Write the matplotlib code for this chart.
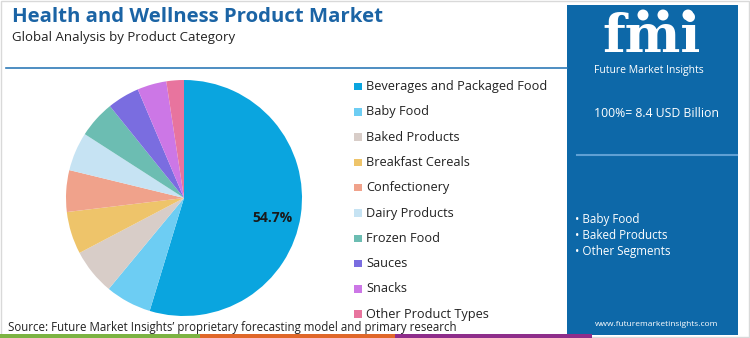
import matplotlib.pyplot as plt
from matplotlib.patches import Rectangle, Circle

plt.rcParams['font.family'] = ['Open Sans', 'DejaVu Sans']

# ---------------- data ----------------
categories = ["Beverages and Packaged Food", "Baby Food", "Baked Products",
              "Breakfast Cereals", "Confectionery", "Dairy Products",
              "Frozen Food", "Sauces", "Snacks", "Other Product Types"]
shares = [54.7, 6.3, 6.3, 5.8, 5.7, 5.3, 5.1, 4.4, 4.0, 2.4]
colors = ["#0aa5df", "#6dcdf3", "#d8cdc8", "#eec46a", "#f0a28b",
          "#c6e3f3", "#6cbdb2", "#7a6de0", "#cc77e6", "#e8749e"]
panel_segments = ["Baby Food", "Baked Products", "Other Segments"]
total_label = "100%= 8.4 USD Billion"

W, H = 750, 338
fig = plt.figure(figsize=(W / 100, H / 100), dpi=100)
fig.patch.set_facecolor("white")


def fx(px):
    return px / W


def fy(py):
    return 1 - py / H


# background layer for shapes in pixel coords
bg = fig.add_axes([0, 0, 1, 1])
bg.set_xlim(0, W)
bg.set_ylim(H, 0)
bg.axis("off")

# outer light frame
bg.add_patch(Rectangle((1, 1), W - 2, H - 2, fill=False, ec="#d9d9d9", lw=1))

# divider under header
bg.plot([6, 567], [67.5, 67.5], color="#2f7ab8", lw=1.2)

# right blue panel
bg.add_patch(Rectangle((567, 5), 171, 330, color="#0d68a8", lw=0))
bg.plot([577, 737], [155, 155], color="#5fa0d4", lw=1.5)

# bottom colour strip
for x0, x1, c in [(0, 200, "#7cb342"), (200, 395, "#e0672a"), (395, 592, "#8e2d8a")]:
    bg.add_patch(Rectangle((x0, 334), x1 - x0, 4, color=c, lw=0))

# ---------------- header ----------------
fig.text(fx(12), fy(17), "Health and Wellness Product Market", fontsize=14.7,
         fontweight="bold", color="#1b64a5", va="center", ha="left")
fig.text(fx(12), fy(37), "Global Analysis by Product Category", fontsize=9.5,
         color="#222222", va="center", ha="left")

# ---------------- pie ----------------
cx, cy, r = 184, 198, 118
ax = fig.add_axes([fx(cx - r), fy(cy + r), fx(2 * r), (2 * r) / H])


def pct_label(p):
    return f"{p:.1f}%" if p > 50 else ""


wedges, _, autotexts = ax.pie(shares, colors=colors, startangle=90, counterclock=False,
                              autopct=pct_label, pctdistance=0.76,
                              wedgeprops=dict(linewidth=0))
for t in autotexts:
    t.set_fontsize(10)
    t.set_fontweight("bold")
    t.set_color("#1a1a1a")
    t.set_va("top")
ax.set_xlim(-1, 1)
ax.set_ylim(-1, 1)
ax.set_aspect("equal")

# ---------------- legend ----------------
y0, dy = 86.5, 25.3
for i, (name, c) in enumerate(zip(categories, colors)):
    y = y0 + i * dy
    bg.add_patch(Rectangle((354, y - 3.8), 7.5, 7.5, color=c, lw=0))
    bg.text(366, y, name, fontsize=9.2, color="#222222", va="center", ha="left")

# ---------------- panel texts ----------------
fig.text(fx(652), fy(38), "fmi", fontsize=38, fontweight="bold", family="DejaVu Serif",
         color="white", ha="center", va="center")
for gx in [643, 663, 688]:
    bg.add_patch(Circle((gx, 15), 5.5, color="white", lw=0))
fig.text(fx(649), fy(70), "Future Market Insights", fontsize=7.5, color="white",
         ha="center", va="center")
fig.text(fx(657), fy(114), total_label, fontsize=8.8, color="white",
         ha="center", va="center")
for i, s in enumerate(panel_segments):
    fig.text(fx(575), fy(220 + i * 15.8), "\u2022 " + s, fontsize=8.4, color="white",
             ha="left", va="center")
fig.text(fx(657), fy(324), "www.futuremarketinsights.com", fontsize=6.0, color="white",
         ha="center", va="center")

# ---------------- source ----------------
fig.text(fx(8), fy(328), "Source: Future Market Insights\u2019 proprietary forecasting model and primary research",
         fontsize=8.3, color="#222222", ha="left", va="center")

fig.savefig("out.png", dpi=100, facecolor="white")
